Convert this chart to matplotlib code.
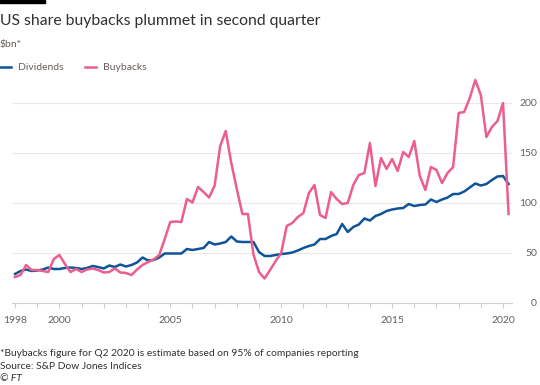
import matplotlib
matplotlib.use("Agg")
import matplotlib.pyplot as plt
from matplotlib.lines import Line2D
from matplotlib.patches import Rectangle
import matplotlib.ticker as mticker

plt.rcParams["font.family"] = ["Lato", "DejaVu Sans"]

# Quarterly S&P 500 payouts, $bn, 1998 Q1 .. 2020 Q2
start_year = 1998
dividends = [
    29, 32, 33.5, 32, 32.5, 33.5, 35.5, 34, 34, 35, 35.5, 35,
    34, 35, 37, 36, 34.5, 37.5, 36, 38.5, 36.5, 38, 40.5, 45.5,
    42.5, 43, 45.5, 49.5, 49.5, 49.5, 49.5, 54, 53, 54, 55, 61,
    58.5, 59.5, 61, 66.5, 61.5, 61, 61, 61, 51, 47, 47, 48,
    49, 49.5, 50.5, 52.5, 55, 57, 58.5, 64, 64, 67, 69, 79,
    71, 76, 78.5, 84.5, 82.5, 87, 89, 92, 93.5, 94.5, 95, 99,
    97, 98, 98.5, 103.5, 101, 103.5, 105.5, 109, 109, 111.5, 115.5, 119.5,
    117.5, 119, 123, 126.5, 127, 119,
]
buybacks = [
    26, 28, 38, 33, 33, 32, 31, 44, 48, 39, 31, 34,
    31, 33.5, 34.5, 33, 30.5, 31, 34.5, 30.5, 30, 28, 33.5, 38,
    41, 43.5, 48, 64, 81, 81.5, 81, 104, 100.5, 116, 111, 105.5,
    117.5, 157, 172, 140, 114, 89, 89, 48.5, 31, 24.5, 33, 42,
    50, 77, 80, 86, 90, 110, 118, 88, 85, 111, 104, 99,
    100, 118, 128, 130, 160, 117, 145, 134, 144, 132, 151, 146,
    162, 127, 113, 136, 133, 120, 130, 136, 190, 191, 205, 223,
    208, 166, 176, 182, 200, 89,
]
x = [start_year + i / 4 for i in range(len(dividends))]

year_labels = [1998, 2000, 2005, 2010, 2015, 2020]
y_ticks = [0, 50, 100, 150, 200]

blue = "#0f5499"
pink = "#eb5e8d"
grey = "#66605c"

W, H = 540, 385
fig = plt.figure(figsize=(W / 100, H / 100), dpi=100, facecolor="white")


def fx(px):
    return px / W


def fy(px):
    return 1 - px / H


ax = fig.add_axes([fx(12), fy(303), fx(512) - fx(12), fy(73) - fy(303)])
ax.plot(x, dividends, color=blue, lw=1.8, solid_joinstyle="round", zorder=3)
ax.plot(x, buybacks, color=pink, lw=1.8, solid_joinstyle="round", zorder=3)

ax.set_xlim(1997.865, 2020.405)
ax.set_ylim(0, 230)

ax.yaxis.tick_right()
ax.set_yticks(y_ticks)
ax.tick_params(axis="y", length=0, pad=18, labelsize=7.5, labelcolor=grey)
for lab in ax.get_yticklabels():
    lab.set_horizontalalignment("right")
ax.grid(axis="y", color="#ece8e4", lw=0.8, zorder=0)

ax.set_xticks(year_labels)
ax.set_xticklabels([str(y) for y in year_labels])
ax.xaxis.set_minor_locator(mticker.FixedLocator(range(1998, 2021)))
ax.tick_params(axis="x", which="both", length=3.5, color="#d4cfca", width=0.8,
               labelsize=7.5, labelcolor=grey, pad=6)

for s in ["left", "right", "top"]:
    ax.spines[s].set_visible(False)
ax.spines["bottom"].set_color("#d4cfca")
ax.spines["bottom"].set_linewidth(0.8)

# Header
fig.add_artist(Rectangle((0, fy(3)), fx(45), 3 / H, color="black",
                         transform=fig.transFigure))
fig.text(0, fy(25), "US share buybacks plummet in second quarter",
         fontsize=11.3, color="#33302e", va="baseline")
fig.text(0, fy(47), "$bn*", fontsize=7.5, color=grey, va="baseline")

# Legend
for x0, col, label in [(0, blue, "Dividends"), (85, pink, "Buybacks")]:
    fig.add_artist(Line2D([fx(x0), fx(x0 + 11)], [fy(67), fy(67)],
                          color=col, lw=1.8, transform=fig.transFigure))
    fig.text(fx(x0 + 18), fy(67), label, fontsize=7.5, color=grey,
             va="center")

# Footer
fig.text(0, fy(356), "*Buybacks figure for Q2 2020 is estimate based on "
         "95% of companies reporting", fontsize=7.4, color="#33302e",
         va="baseline")
fig.text(0, fy(369), "Source: S&P Dow Jones Indices", fontsize=7.4,
         color="#33302e", va="baseline")
fig.text(0, fy(381), "\u00a9 FT", fontsize=7.4, color="#33302e",
         va="baseline", style="italic")

fig.savefig("out.png", dpi=100, facecolor="white")
